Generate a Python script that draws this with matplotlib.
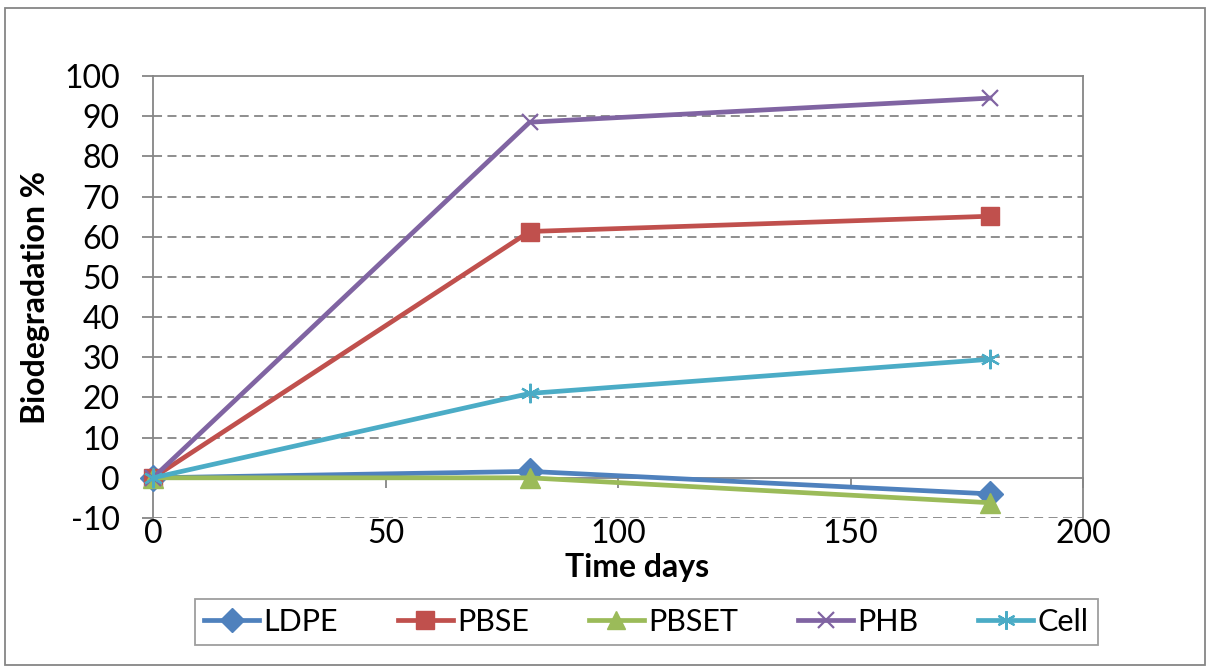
import matplotlib
matplotlib.use("Agg")
import matplotlib.pyplot as plt
from matplotlib.patches import Rectangle

days = [0, 81, 180]
ldpe = [0, 1.6, -4.0]
pbse = [0, 61.3, 65.1]
pbset = [0, 0.0, -6.2]
phb = [0, 88.5, 94.5]
cell = [0, 21.0, 29.5]

series = [
    ("LDPE", ldpe, "#4F81BD", "D", 13),
    ("PBSE", pbse, "#C0504D", "s", 13),
    ("PBSET", pbset, "#9BBB59", "^", 14),
    ("PHB", phb, "#8064A2", "x", 12),
    ("Cell", cell, "#4BACC6", (6, 2, 0), 14),
]

GRID = "#868686"
plt.rcParams["font.family"] = ["Lato", "DejaVu Sans"]
plt.rcParams["axes.unicode_minus"] = False

fig = plt.figure(figsize=(12.11, 6.67), dpi=100)
ax = fig.add_axes([153 / 1211, 1 - 518 / 667, 930 / 1211, 442 / 667])

for name, vals, color, marker, ms in series:
    ax.plot(days, vals, color=color, lw=3.4, marker=marker, ms=ms,
            mew=1.6 if marker in ("x", (6, 2, 0)) else 1,
            mec=color, mfc=color, label=name, zorder=3, clip_on=False)

ax.set_xlim(0, 200)
ax.set_ylim(-10, 100)
ax.set_xticks([0, 50, 100, 150, 200])
ax.set_yticks(range(-10, 101, 10))

# dashed horizontal gridlines
for y in range(-10, 100, 10):
    if y != 0:
        ax.axhline(y, color=GRID, lw=1.3, ls=(0, (5, 3)), zorder=1)

ax.spines["bottom"].set_position(("data", 0))
for s in ax.spines.values():
    s.set_color(GRID)
    s.set_linewidth(1.3)

ax.tick_params(axis="x", direction="out", length=7, width=1.3, color=GRID,
               pad=23, labelsize=23)
ax.tick_params(axis="y", direction="out", length=8, width=1.3, color=GRID,
               pad=16, labelsize=23)

ax.set_xlabel("Time days", fontsize=23, fontweight="bold")
ax.xaxis.set_label_coords((637 - 153) / 930, -0.08)
ax.set_ylabel("Biodegradation %", fontsize=23, fontweight="bold")
ax.yaxis.set_label_coords(-0.111, 0.5)

leg = fig.legend(loc="center", bbox_to_anchor=((196 + 1097) / 2 / 1211, 1 - 622 / 667),
                 ncol=5, frameon=True, fancybox=False,
                 handlelength=1.8, handletextpad=0.15, columnspacing=1.95,
                 borderpad=0.3, markerscale=0.95, prop={"size": 22})
leg.get_frame().set_edgecolor(GRID)
leg.get_frame().set_linewidth(1.3)

# outer chart border
fig.patches.append(Rectangle((5 / 1211, 2 / 667), 1200 / 1211, 657 / 667,
                             transform=fig.transFigure, fill=False,
                             edgecolor=GRID, lw=1.3))

fig.savefig("out.png", dpi=100)
